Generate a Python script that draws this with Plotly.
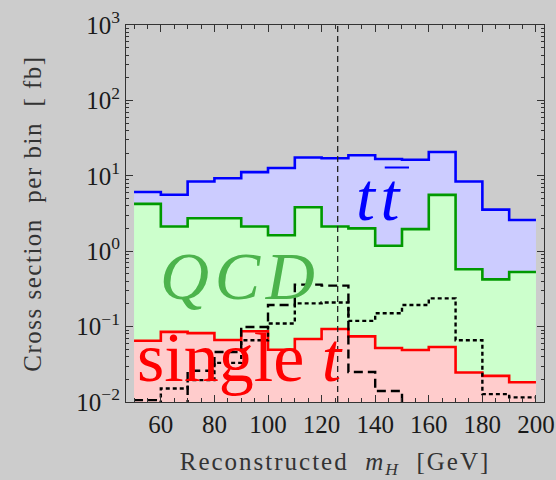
import numpy as np
import plotly.graph_objects as go

# Reconstructed Higgs mass, 10 GeV bins from 50 to 200 GeV
bin_edges = list(range(50, 201, 10))

# Cross section per bin [fb]
ttbar = [6.1, 5.6, 8.4, 9.3, 11.2, 12.7, 17.5, 17.1, 18.7, 16.7, 16.3, 20.7, 8.4, 3.56, 2.59]
qcd = [4.24, 2.13, 2.73, 2.73, 2.13, 1.63, 3.83, 2.13, 2.01, 1.18, 1.96, 5.58, 0.575, 0.423, 0.53]
single_top = [0.065, 0.085, 0.082, 0.0665, 0.0867, 0.0493, 0.0685, 0.093, 0.0743, 0.052,
              0.0489, 0.0536, 0.0246, 0.0222, 0.0183]
signal_dashed = [0.0106, 0.0, 0.026, 0.046, 0.099, 0.193, 0.36, 0.35, 0.025, 0.014,
                 0.0, 0.0, 0.0, 0.0, 0.0]
signal_dotted = [0.0, 0.0151, 0.0195, 0.033, 0.066, 0.110, 0.203, 0.209, 0.119, 0.150,
                 0.193, 0.237, 0.066, 0.0127, 0.0115]

higgs_mass = 126

y_tick_vals = [1e-2, 1e-1, 1e0, 1e1, 1e2, 1e3]
y_tick_text = ["10<sup>\u22122</sup>", "10<sup>\u22121</sup>", "10<sup>0</sup>",
               "10<sup>1</sup>", "10<sup>2</sup>", "10<sup>3</sup>"]
x_tick_vals = [60, 80, 100, 120, 140, 160, 180, 200]

BG = "#cccccc"
SERIF = "Liberation Serif, Times New Roman, serif"
FLOOR = 1e-4  # empty bins drawn below the visible range


def step_y(vals):
    v = np.maximum(np.asarray(vals, dtype=float), FLOOR)
    return list(v) + [v[-1]]


def spaced(text, px):
    return f"<span style='letter-spacing:{px}px'>{text}</span>"


fig = go.Figure()

fills = [
    (ttbar, "#0000ff", "#ccccff"),
    (qcd, "#009900", "#ccffcc"),
    (single_top, "#ff0000", "#ffcccc"),
]
for vals, lc, fc in fills:
    fig.add_trace(go.Scatter(
        x=bin_edges, y=step_y(vals), mode="lines", line_shape="hv",
        line=dict(color=lc, width=2.6), fill="tozeroy", fillcolor=fc,
        hoverinfo="skip", showlegend=False,
    ))

fig.add_trace(go.Scatter(
    x=bin_edges, y=step_y(signal_dotted), mode="lines", line_shape="hv",
    line=dict(color="black", width=2.4, dash="4px,3px"),
    hoverinfo="skip", showlegend=False,
))
fig.add_trace(go.Scatter(
    x=bin_edges, y=step_y(signal_dashed), mode="lines", line_shape="hv",
    line=dict(color="black", width=2.4, dash="9px,5px"),
    hoverinfo="skip", showlegend=False,
))

# vertical marker at the Higgs mass
fig.add_shape(type="line", xref="x", yref="paper", x0=higgs_mass, x1=higgs_mass,
              y0=0, y1=1, line=dict(color="#222222", width=1.3, dash="6px,4px"))

# overline of t-bar
fig.add_shape(type="line", xref="paper", yref="paper", x0=0.619, x1=0.677,
              y0=0.622, y1=0.622, line=dict(color="#0000ff", width=2))

fig.add_annotation(text="t\u200at", xref="paper", yref="paper", x=0.605, y=0.545,
                   showarrow=False, xanchor="center", yanchor="middle",
                   font=dict(family=SERIF, size=68, color="#0000ff", style="italic"))
fig.add_annotation(text="Q\u200aC\u200aD", xref="paper", yref="paper", x=0.267, y=0.3355,
                   showarrow=False, xanchor="center", yanchor="middle",
                   font=dict(family=SERIF, size=68, color="#4cb34c", style="italic"))
fig.add_annotation(text="single <i>t</i>", xref="paper", yref="paper", x=0.273, y=0.117,
                   showarrow=False, xanchor="center", yanchor="middle",
                   font=dict(family=SERIF, size=70, color="#ff0000"))

axis_common = dict(
    showline=True, linecolor="#333333", linewidth=1.2, mirror="allticks",
    ticks="inside", ticklen=7, tickwidth=1.1, tickcolor="#333333",
    showgrid=False, zeroline=False, automargin=False,
    tickfont=dict(family=SERIF, size=25, color="#1a1a1a"),
)

fig.update_xaxes(
    range=[47, 203], tickvals=x_tick_vals,
    minor=dict(dtick=5, tick0=0, ticks="inside", ticklen=4, tickcolor="#333333"),
    title=dict(text=spaced("Reconstructed\u00a0\u00a0<i>m<sub>H</sub></i>\u00a0\u00a0[GeV]", 2),
               standoff=15, font=dict(family=SERIF, size=25, color="#333333")),
    **axis_common,
)
fig.update_yaxes(
    type="log", range=[-2, 3], tickvals=y_tick_vals, ticktext=y_tick_text,
    minor=dict(dtick="D1", ticks="inside", ticklen=3, tickcolor="#333333"),
    title=dict(text=spaced("Cross section\u00a0\u00a0per\u00a0bin\u00a0\u00a0[\u00a0fb]", 1.5),
               standoff=27, font=dict(family=SERIF, size=25, color="#333333")),
    **axis_common,
)

fig.update_layout(
    width=556, height=480,
    margin=dict(l=126, r=12, t=25, b=78),
    paper_bgcolor=BG, plot_bgcolor=BG,
)

fig.write_html("out.html")
